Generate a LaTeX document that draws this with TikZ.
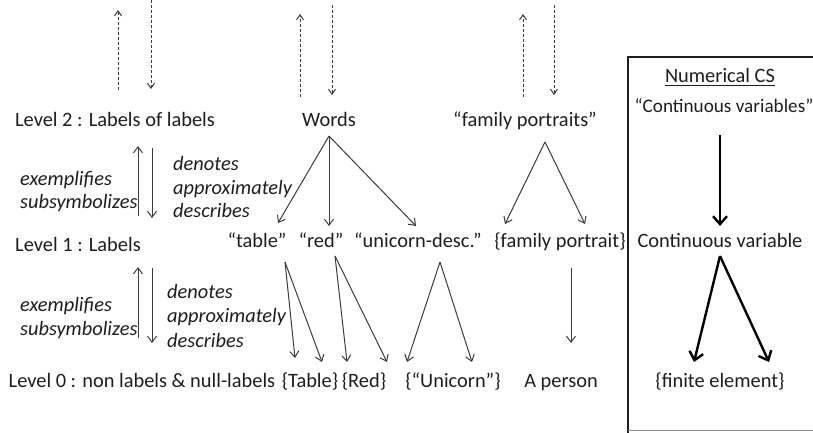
\documentclass[tikz,border=0pt]{standalone}
\usepackage{fontspec}
\setmainfont{Carlito}
\usetikzlibrary{arrows.meta}
\definecolor{ink}{HTML}{1E1E1E}
\definecolor{lin}{HTML}{3C3C3C}
\tikzset{
  txt/.style={anchor=base, inner sep=0pt, text=ink, font=\fontsize{20.4}{24}\selectfont},
  itl/.style={anchor=base west, inner sep=0pt, text=ink, font=\fontsize{20.4}{24}\selectfont\itshape},
  arr/.style={draw=lin, line width=1pt, -{Straight Barb[length=6pt,width=9pt]}},
  darr/.style={arr, dash pattern=on 3pt off 2pt, -{Straight Barb[length=5pt,width=7pt]}},
  tarr/.style={draw=black, line width=2.4pt, -{Straight Barb[length=8pt,width=14pt,line width=2.4pt]}},
}
\begin{document}
\begin{tikzpicture}[x=1pt,y=-1pt]
\useasboundingbox (0,0) rectangle (813,432);
\begin{scope}
\clip (0,0) rectangle (813,432);
% right box
\draw[draw=ink, line width=1.8pt] (817,57) -- (628,57) -- (628,436);
\draw[draw=ink!50, line width=0.8pt] (628,430) -- (817,430);
\end{scope}

% text nodes
\node[txt] (l2) at (115,126) {Level 2 : Labels of labels};
\node[txt] (words) at (329,126) {Words};
\node[txt] (fps) at (525,126) {``family portraits''};
\node[txt] (ncs) at (720,82) {Numerical CS};
\draw[ink, line width=0.9pt] ([yshift=-3.5pt]ncs.base west) -- ([yshift=-3.5pt]ncs.base east);
\node[txt, font=\fontsize{19.2}{23}\selectfont] (cvs) at (724,112) {``Continuous variables''};

\node[txt] (l1) at (78,251) {Level 1 : Labels};
\node[txt] (table) at (257,247) {``table''};
\node[txt] (red) at (321,247) {``red''};
\node[txt] (uni) at (418,247) {``unicorn-desc.''};
\node[txt] (fp) at (560,247) {\{family portrait\}};
\node[txt] (cv) at (720,247) {Continuous variable};

\node[txt] (l0) at (142,387) {Level 0 : non labels \& null-labels};
\node[txt] (Tab) at (310,387) {\{Table\}};
\node[txt] (Red) at (364,387) {\{Red\}};
\node[txt] (Uni) at (453,387) {\{``Unicorn''\}};
\node[txt] (per) at (561,387) {A person};
\node[txt] (fe) at (720,387) {\{finite element\}};

% italic relation labels
\node[itl] (ex2) at (20,185) {exemplifies};
\node[itl] (sub2) at (20,208) {subsymbolizes};
\node[itl] (den2) at (173,170) {denotes};
\node[itl] (app2) at (173,194) {approximately};
\node[itl] (des2) at (173,217) {describes};
\node[itl] (ex1) at (20,311) {exemplifies};
\node[itl] (sub1) at (20,335) {subsymbolizes};
\node[itl] (den1) at (167,298) {denotes};
\node[itl] (app1) at (167,322) {approximately};
\node[itl] (des1) at (167,347) {describes};

% dashed arrows (to and from the level above)
\coordinate (d1a) at (118,90); \coordinate (d1b) at (118,10);
\coordinate (d2a) at (151,0);  \coordinate (d2b) at (151,89);
\coordinate (d3a) at (300,97); \coordinate (d3b) at (300,14);
\coordinate (d4a) at (332,5);  \coordinate (d4b) at (332,95);
\coordinate (d5a) at (523,97); \coordinate (d5b) at (523,14);
\coordinate (d6a) at (554,5);  \coordinate (d6b) at (554,95);
\draw[darr] (d1a) -- (d1b);
\draw[darr] (d2a) -- (d2b);
\draw[darr] (d3a) -- (d3b);
\draw[darr] (d4a) -- (d4b);
\draw[darr] (d5a) -- (d5b);
\draw[darr] (d6a) -- (d6b);

% level arrows
\coordinate (u2a) at (138,216); \coordinate (u2b) at (138,146);
\coordinate (v2a) at (152,148); \coordinate (v2b) at (152,218);
\coordinate (u1a) at (138,338); \coordinate (u1b) at (138,267);
\coordinate (v1a) at (152,268); \coordinate (v1b) at (152,343);
\draw[arr] (u2a) -- (u2b);
\draw[arr] (v2a) -- (v2b);
\draw[arr] (u1a) -- (u1b);
\draw[arr] (v1a) -- (v1b);

% Words fan
\coordinate (wtop) at (329,136);
\coordinate (wt) at (278,223);
\coordinate (wr) at (329,226);
\coordinate (wu) at (416,226);
\draw[arr] (wtop) -- (wt);
\draw[arr] (wtop) -- (wr);
\draw[arr] (wtop) -- (wu);

% family portraits fan
\coordinate (ftop) at (545,142);
\coordinate (fl) at (505,224);
\coordinate (fr) at (585,224);
\draw[arr] (ftop) -- (fl);
\draw[arr] (ftop) -- (fr);

% table / red / unicorn arrows
\coordinate (tb) at (285,262);
\coordinate (tt1) at (295,358);
\coordinate (tt2) at (322,362);
\draw[arr] (tb) -- (tt1);
\draw[arr] (tb) -- (tt2);
\coordinate (rb) at (335,256);
\coordinate (rt1) at (347,362);
\coordinate (rt2) at (387,362);
\draw[arr] (rb) -- (rt1);
\draw[arr] (rb) -- (rt2);
\coordinate (ub) at (440,262);
\coordinate (ut1) at (407,362);
\coordinate (ut2) at (472,362);
\draw[arr] (ub) -- (ut1);
\draw[arr] (ub) -- (ut2);
\coordinate (pb) at (571,268);
\coordinate (pt) at (571,343);
\draw[arr] (pb) -- (pt);

% thick arrows
\coordinate (cvsb) at (720,135);
\coordinate (cvt) at (720,226);
\draw[tarr] (cvsb) -- (cvt);
\coordinate (cvb) at (720,256);
\coordinate (fe1) at (694,362);
\coordinate (fe2) at (769,362);
\draw[tarr] (cvb) -- (fe1);
\draw[tarr] (cvb) -- (fe2);
\end{tikzpicture}
\end{document}
